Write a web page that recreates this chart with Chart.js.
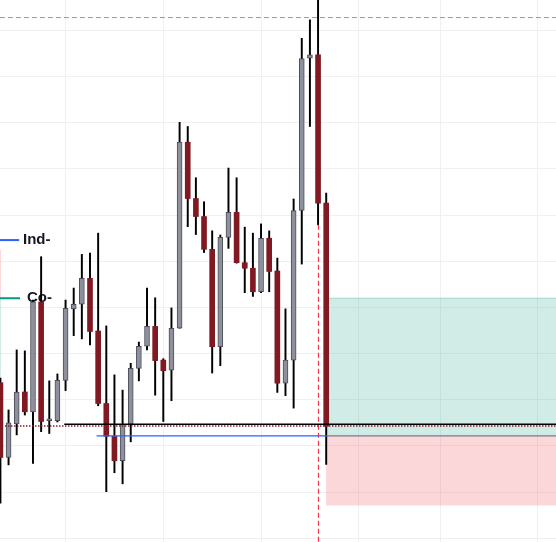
<!DOCTYPE html>
<html>
<head>
<meta charset="utf-8">
<script src="https://cdn.jsdelivr.net/npm/chart.js@4.4.1/dist/chart.umd.min.js"></script>
<style>
html, body { margin: 0; padding: 0; background: #fff; }
#wrap { width: 556px; height: 542px; position: relative; }
</style>
</head>
<body>
<div id="wrap"><canvas id="myChart"></canvas></div>
<script>
// candles, index 0..40 (oldest first)
const opens  = [1.08337, 1.08175, 1.08248, 1.08317, 1.08274, 1.08512, 1.08255, 1.08255, 1.08342, 1.08497,
                1.08507, 1.08563, 1.08449, 1.08292, 1.08221, 1.08168, 1.08247, 1.08368, 1.08416, 1.08459,
                1.08386, 1.08364, 1.08455, 1.08858, 1.08736, 1.08697, 1.08626, 1.08415, 1.08652, 1.08706,
                1.08597, 1.08585, 1.08534, 1.08650, 1.08579, 1.08336, 1.08386, 1.08710, 1.09040, 1.09047,
                1.08726];
const highs  = [1.08347, 1.08278, 1.08408, 1.08406, 1.08516, 1.08610, 1.08341, 1.08356, 1.08516, 1.08542,
                1.08615, 1.08618, 1.08661, 1.08460, 1.08354, 1.08321, 1.08379, 1.08425, 1.08542, 1.08521,
                1.08389, 1.08499, 1.08901, 1.08892, 1.08781, 1.08729, 1.08666, 1.08657, 1.08802, 1.08781,
                1.08674, 1.08661, 1.08681, 1.08666, 1.08607, 1.08497, 1.08735, 1.09083, 1.09123, 1.09188,
                1.08748];
const lows   = [1.08076, 1.08159, 1.08224, 1.08267, 1.08162, 1.08231, 1.08227, 1.08252, 1.08320, 1.08439,
                1.08432, 1.08419, 1.08287, 1.08101, 1.08142, 1.08118, 1.08209, 1.08341, 1.08408, 1.08310,
                1.08253, 1.08298, 1.08455, 1.08675, 1.08658, 1.08619, 1.08358, 1.08374, 1.08628, 1.08596,
                1.08532, 1.08524, 1.08532, 1.08534, 1.08316, 1.08309, 1.08282, 1.08594, 1.08892, 1.08679,
                1.08160];
const closes = [1.08175, 1.08250, 1.08317, 1.08274, 1.08512, 1.08253, 1.08259, 1.08342, 1.08498, 1.08507,
                1.08563, 1.08448, 1.08292, 1.08221, 1.08168, 1.08247, 1.08368, 1.08416, 1.08459, 1.08385,
                1.08363, 1.08455, 1.08858, 1.08736, 1.08697, 1.08626, 1.08415, 1.08652, 1.08706, 1.08597,
                1.08585, 1.08534, 1.08650, 1.08578, 1.08336, 1.08386, 1.08710, 1.09039, 1.09047, 1.08726,
                1.08243];

// levels
const topLevel    = 1.09128;  // grey dashed
const entryLevel  = 1.08247;  // black
const lastClose   = 1.08243;  // dotted
const stopLevel   = 1.08222;  // blue / box split
const targetLevel = 1.08520;  // green box top
const lossLevel   = 1.08071;  // red box bottom
const markerIdx   = 39.05;    // red dashed vertical
const markerLow   = 1.08679;
const indLevel    = 1.08646;
const coLevel     = 1.08520;
const oldBoxTop   = 1.08625;
const oldBoxMid   = 1.08520;
const oldBoxLow   = 1.08343;

const gridX = [8, 20, 32, 44, 54, 66];
const gridY = [1.080, 1.081, 1.082, 1.083, 1.084, 1.085, 1.086, 1.087, 1.088, 1.089, 1.090, 1.091];

const xMin = -0.05, xMax = 68.213, xEnd = 68.5;
const yMin = 1.07992, yMax = 1.09166;

const UP = '#8e919b', UP_BORDER = '#4b4e5a', DOWN = '#801922';

let bodies = [], wicks = [], fills = [], borders = [], borderW = [];
for (let i = 0; i < opens.length; i++) {
    bodies.push({x: i, y: [opens[i], closes[i]]});
    wicks.push({x: i, y: [lows[i], highs[i]]});
    let up = closes[i] >= opens[i];
    fills.push(up ? UP : DOWN);
    borders.push(up ? UP_BORDER : DOWN);
    borderW.push(up ? 1 : 0);
}

function hline(x0, x1, y, color, width, dash, order) {
    return {
        type: 'line', data: [{x: x0, y: y}, {x: x1, y: y}],
        borderColor: color, borderWidth: width, borderDash: dash || [],
        pointRadius: 0, fill: false, order: order || 1
    };
}
function box(x0, x1, top, bottom, color, edge) {
    return {
        type: 'line', data: [{x: x0, y: top}, {x: x1, y: top}],
        borderColor: edge || 'rgba(0,0,0,0)', borderWidth: edge ? 1 : 0,
        backgroundColor: color, fill: {value: bottom},
        pointRadius: 0, order: 10
    };
}

const sideLabels = {
    id: 'sideLabels',
    beforeDatasetsDraw(chart) {
        const ctx = chart.ctx, x = chart.scales.x, y = chart.scales.y;
        ctx.save();
        ctx.font = 'bold 15px "Liberation Sans", Arial, sans-serif';
        ctx.fillStyle = '#131722';
        ctx.textBaseline = 'middle';
        ctx.fillText('Ind-', x.left + 23, y.getPixelForValue(indLevel));
        ctx.fillText('Co-', x.left + 27, y.getPixelForValue(coLevel));
        ctx.restore();
    }
};

const datasets = [
    {
        type: 'bar', data: bodies, backgroundColor: fills, borderColor: borders,
        borderWidth: borderW, borderSkipped: false, barThickness: 5, grouped: false, order: 4
    },
    {
        type: 'bar', data: wicks, backgroundColor: '#000000',
        borderWidth: 0, barThickness: 1.3, grouped: false, order: 5
    },
    box(40.06, xEnd, targetLevel, stopLevel, 'rgba(8,153,129,0.19)', '#9fd8cb'),
    box(39.98, xEnd, stopLevel, lossLevel, 'rgba(242,54,69,0.2)'),
    box(-3, 0.07, oldBoxTop, oldBoxMid, 'rgba(242,54,69,0.2)'),
    box(-3, 0.07, oldBoxMid, oldBoxLow, 'rgba(8,153,129,0.19)'),
    hline(xMin - 1, xEnd, topLevel, '#999999', 1, [5, 3]),
    hline(7.84, xEnd, entryLevel, '#000000', 1.3),
    hline(0.56, xEnd, lastClose, '#8b1a2a', 1.5, [1.5, 1.5]),
    hline(11.81, 40.06, stopLevel, '#2962ff', 1.2),
    hline(40.06, xEnd, stopLevel, '#787b86', 1.2),
    hline(xMin - 1, 2.3, indLevel, '#2962ff', 2),
    hline(xMin - 1, 2.41, coLevel, '#089981', 2),
    {
        type: 'line', data: [{x: markerIdx, y: markerLow}, {x: markerIdx, y: yMin - 0.001}],
        borderColor: '#ff3347', borderWidth: 1.2, borderDash: [5, 3],
        pointRadius: 0, fill: false, order: 1
    }
];

new Chart(document.getElementById('myChart'), {
    type: 'bar',
    data: {datasets: datasets},
    plugins: [sideLabels],
    options: {
        responsive: true,
        maintainAspectRatio: false,
        animation: false,
        layout: {padding: 0},
        plugins: {legend: {display: false}, tooltip: {enabled: false}},
        scales: {
            x: {
                type: 'linear', min: xMin, max: xMax, offset: false,
                afterBuildTicks: (s) => { s.ticks = gridX.map(v => ({value: v})); },
                grid: {color: '#eff0f2', lineWidth: 1, drawTicks: false, offset: false},
                border: {display: false},
                ticks: {display: false}
            },
            y: {
                type: 'linear', min: yMin, max: yMax, beginAtZero: false,
                afterBuildTicks: (s) => { s.ticks = gridY.map(v => ({value: v})); },
                grid: {color: '#eff0f2', lineWidth: 1, drawTicks: false},
                border: {display: false},
                ticks: {display: false}
            }
        }
    }
});
</script>
</body>
</html>
